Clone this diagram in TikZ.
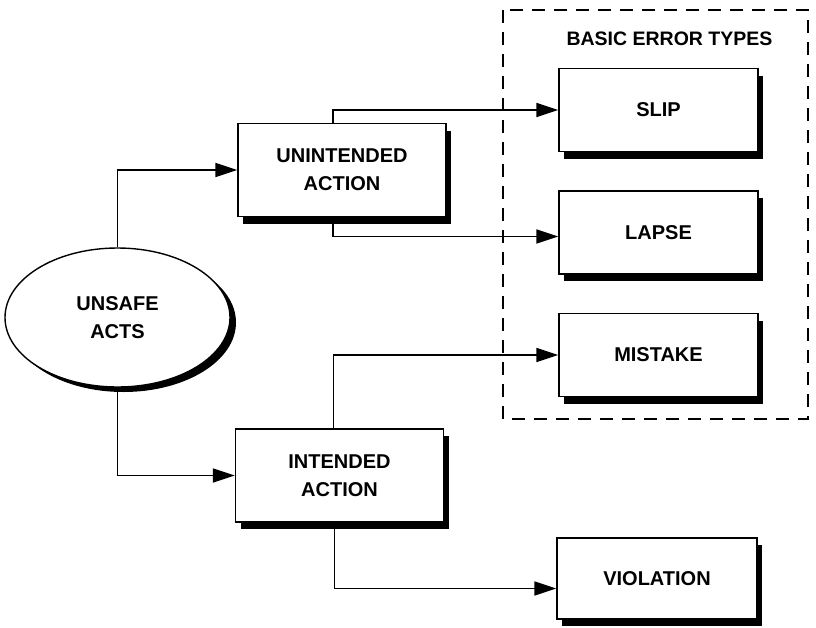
\documentclass[tikz,border=0pt]{standalone}
\usepackage{fontspec}
\setmainfont{Liberation Sans}
\usetikzlibrary{shapes.geometric,shadows,arrows.meta}
\newcommand{\labelfont}{\fontsize{20}{28}\selectfont\bfseries}
\tikzstyle{box}=[draw,fill=white,line width=1.4pt,minimum width=208pt,minimum height=93pt,align=center,font=\labelfont,drop shadow={shadow xshift=5pt,shadow yshift=-7pt,fill=black,opacity=1}]
\tikzstyle{errbox}=[box,minimum width=199pt,minimum height=83pt]
\tikzstyle{oval}=[ellipse,draw,fill=white,line width=1.4pt,minimum width=225pt,minimum height=139pt,align=center,font=\labelfont,drop shadow={shadow xshift=6pt,shadow yshift=-5pt,fill=black,opacity=1}]
\tikzstyle{link}=[-{Triangle[length=22pt,width=14pt]},line width=1.7pt]
\tikzstyle{group}=[line width=1.8pt,dash pattern=on 13pt off 9pt]

\begin{document}
\begin{tikzpicture}[x=1pt,y=-1pt]
  \useasboundingbox (0,0) rectangle (816,627);

  %% Error type group
  \draw[group] (503,10) rectangle (808,419);
  \draw (669.5,38.5) node[font=\fontsize{19.5}{22}\selectfont\bfseries] (title) {BASIC ERROR TYPES};

  \draw (117.5,317.5) node[oval] (acts) {UNSAFE\\ACTS};

  \draw (342,170) node[box] (un) {UNINTENDED\\ACTION};
  \draw (339.5,475.5) node[box] (int) {INTENDED\\ACTION};

  \draw (658.5,110) node[errbox] (slip) {SLIP};
  \draw (658.5,232.5) node[errbox] (lapse) {LAPSE};
  \draw (658.5,355) node[errbox] (mistake) {MISTAKE};
  \draw (657,578.5) node[errbox,minimum width=200pt,minimum height=81pt] (viol) {VIOLATION};

  \draw[link] (acts.north) |- (un.west);
  \draw[link] (acts.south) |- (int.west);

  \draw[link] ([xshift=-9pt]un.north) |- (slip.west);
  \draw[link] ([xshift=-9pt]un.south) |- ([yshift=-4pt]lapse.west);

  \draw[link] ([xshift=-6pt]int.north) |- (mistake.west);
  \draw[link] ([xshift=-5pt]int.south) |- ([yshift=-10pt]viol.west);
\end{tikzpicture}
\end{document}
